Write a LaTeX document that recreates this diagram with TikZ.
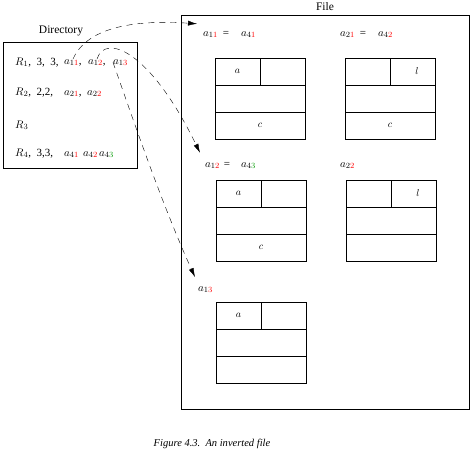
\documentclass[tikz,border=0pt]{standalone}
\usepackage{fontspec}
\setmainfont{Liberation Serif}
\usetikzlibrary{arrows.meta}
\newcommand{\rdg}[1]{\textcolor{red}{#1}}
\newcommand{\gdg}[1]{\textcolor{green!60!black}{#1}}

\begin{document}
\begin{tikzpicture}[x=1pt, y=-1pt,
    frame/.style={draw, line width=0.8pt, inner sep=0pt},
    title/.style={font=\fontsize{11.5}{13}\selectfont},
    entry/.style={anchor=base west, inner sep=0pt, font=\fontsize{11}{13}\selectfont},
    record/.style={draw, line width=0.7pt, minimum width=90pt, minimum height=81pt, inner sep=0pt},
    cell/.style={line width=0.7pt},
    link/.style={dash pattern=on 6pt off 5pt, -{Latex[length=9pt,width=5pt]}}]
  \useasboundingbox (0,0) rectangle (470,453);

  % Directory: box, title and rows
  \node[title] (dirlbl) at (61,31) {Directory};
  \node[frame, minimum width=134pt, minimum height=126pt] (dir) at (70,105) {};
  \foreach \nm/\py/\txt in {r1/65/{$R_1$,\enspace 3,\enspace 3,}, r2/95/{$R_2$,\enspace 2,2,},
      r3/128/{$R_3$}, r4/156/{$R_4$,\enspace 3,3,}}
    \node[entry] (\nm) at (15,\py) {\txt};

  % Directory pointers a_ij
  \foreach \nm/\px/\py/\txt in {d11/64/64/{$a_{1\rdg{1}}$,}, d12/88/64/{$a_{1\rdg{2}}$,},
      d13/113/64/{$a_{1\rdg{3}}$}, d21/64/95/{$a_{2\rdg{1}}$,}, d22/87/95/{$a_{2\rdg{2}}$},
      d41/64/156/{$a_{4\rdg{1}}$}, d42/83/156/{$a_{4\rdg{2}}$}, d43/99/156/{$a_{4\gdg{3}}$}}
    \node[entry] (\nm) at (\px,\py) {\txt};

  % File: box, title and record labels
  \node[title] (filelbl) at (325,7) {File};
  \node[frame, minimum width=288pt, minimum height=394pt] (file) at (325,212) {};
  \foreach \nm/\px/\py/\txt in {f11/203/36/{$a_{1\rdg{1}}$\hspace{5pt}=\hspace{12pt}$a_{4\rdg{1}}$},
      f21/340/36/{$a_{2\rdg{1}}$\hspace{5pt}=\hspace{12pt}$a_{4\rdg{2}}$},
      f12/205/167/{$a_{1\rdg{2}}$\hspace{4pt}=\hspace{11pt}$a_{4\gdg{3}}$},
      f22/340/167/{$a_{2\rdg{2}}$}, f13/198/291/{$a_{1\rdg{3}}$}}
    \node[entry] (\nm) at (\px,\py) {\txt};

  % Records, three rows each, top row split in two
  \foreach \nm/\px/\py/\tl/\tr/\bt in {b11/215/58/$a$/{}/$c$, b21/345/58/{}/$l$/$c$,
      b12/216/180/$a$/{}/$c$, b22/346/180/{}/$l$/{}, b13/216/302/$a$/{}/{}}
  {
    \node[record] (\nm) at (\px+45,\py+40.5) {};
    \draw[cell] (\px,\py+27) -- ++(90,0) (\px,\py+54) -- ++(90,0) (\px+45,\py) -- ++(0,27);
    \node (\nm-tl) at (\px+22.5,\py+13.5) {\tl};
    \node (\nm-tr) at (\px+72,\py+13.5) {\tr};
    \node (\nm-bt) at (\px+45,\py+67.5) {\bt};
  }

  % Pointers from the directory into the file
  \draw[link] (d11.north) .. controls (88,25) and (140,20) .. ([xshift=-6pt,yshift=7pt]f11.north west);
  \draw[link] (d12.north) .. controls (105,33) and (150,50) .. ([xshift=-5pt,yshift=9pt]f12.north west);
  \draw[link] (d13.west) .. controls (130,110) and (160,200) .. ([xshift=-3pt,yshift=9pt]f13.north west);

  % Caption
  \node[font=\itshape\fontsize{10.5}{12}\selectfont] (caption) at (212,444) {Figure 4.3.\ \ An inverted file};
\end{tikzpicture}
\end{document}
